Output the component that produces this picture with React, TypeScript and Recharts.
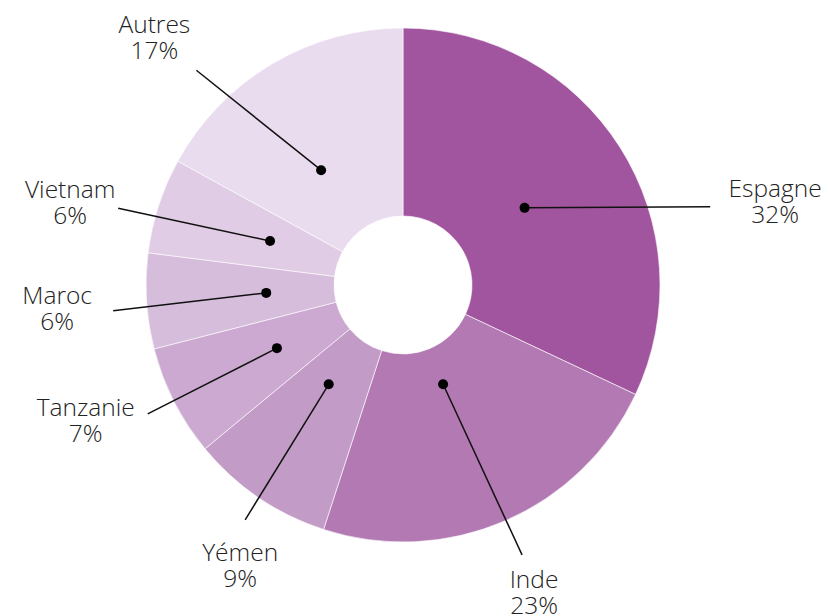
import { Cell, Pie, PieChart } from "recharts";

const COUNTRIES = ["Espagne", "Inde", "Yémen", "Tanzanie", "Maroc", "Vietnam", "Autres"];
const SHARES = [32, 23, 9, 7, 6, 6, 17];
const COLORS = ["#a2559f", "#b279b2", "#c39bc7", "#cca9d0", "#d7bddc", "#e0cce5", "#eadcef"];

// where each label dot / leader line / text block sits (polar, clockwise from top)
const LABEL_LAYOUT = [
  { dotR: 144, dotShift: 0, endR: 317, endAngle: 75.7, dx: 65, dy: -10 },
  { dotR: 107, dotShift: 1.4, endR: 295, endAngle: 156.2, dx: 12, dy: 33 },
  { dotR: 124, dotShift: 2.6, endR: 283, endAngle: 213.9, dx: -5, dy: 41 },
  { dotR: 141, dotShift: 0.4, endR: 286, endAngle: 243.2, dx: -62, dy: 2 },
  { dotR: 137, dotShift: 0.3, endR: 291, endAngle: 264.9, dx: -56, dy: -7 },
  { dotR: 140, dotShift: 0.3, endR: 295, endAngle: 285.1, dx: -48, dy: -10 },
  { dotR: 141, dotShift: -4.9, endR: 298, endAngle: 316.1, dx: -42, dy: -37 },
];

const data = COUNTRIES.map((name, i) => ({ name, value: SHARES[i] }));

const FONT = "'Open Sans', 'Noto Sans', sans-serif";
const RAD = Math.PI / 180;

function polar(cx: number, cy: number, r: number, cw: number) {
  return { x: cx + r * Math.sin(cw * RAD), y: cy - r * Math.cos(cw * RAD) };
}

function renderLabel(props: any) {
  const { cx, cy, midAngle, index } = props;
  const l = LABEL_LAYOUT[index];
  const cw = 90 - midAngle + l.dotShift;
  const dot = polar(cx, cy, l.dotR, cw);
  const end = polar(cx, cy, l.endR, l.endAngle);
  const tx = end.x + l.dx;
  const ty = end.y + l.dy;
  return (
    <g key={`lbl-${index}`}>
      <line x1={dot.x} y1={dot.y} x2={end.x} y2={end.y} stroke="#111" strokeWidth={1.5} />
      <circle cx={dot.x} cy={dot.y} r={5} fill="#000" />
      <text x={tx} y={ty} textAnchor="middle" fontFamily={FONT} fontWeight={300} fontSize={24.5} fill="#222">
        {COUNTRIES[index]}
      </text>
      <text x={tx} y={ty + 26} textAnchor="middle" fontFamily={FONT} fontWeight={300} fontSize={24.5} fill="#222">
        {SHARES[index]}%
      </text>
    </g>
  );
}

export default function App() {
  return (
    <div style={{ position: "absolute", left: 0, top: 0, width: 828, height: 616, background: "#fff" }}>
      <PieChart width={828} height={616} margin={{ top: 0, right: 0, bottom: 0, left: 0 }}>
        <Pie
          data={data}
          dataKey="value"
          nameKey="name"
          cx={403}
          cy={285}
          innerRadius={69}
          outerRadius={257}
          startAngle={90}
          endAngle={-270}
          stroke="#fff"
          strokeWidth={0.6}
          label={renderLabel}
          labelLine={false}
          isAnimationActive={false}
        >
          {data.map((d, i) => (
            <Cell key={d.name} fill={COLORS[i]} />
          ))}
        </Pie>
      </PieChart>
    </div>
  );
}
